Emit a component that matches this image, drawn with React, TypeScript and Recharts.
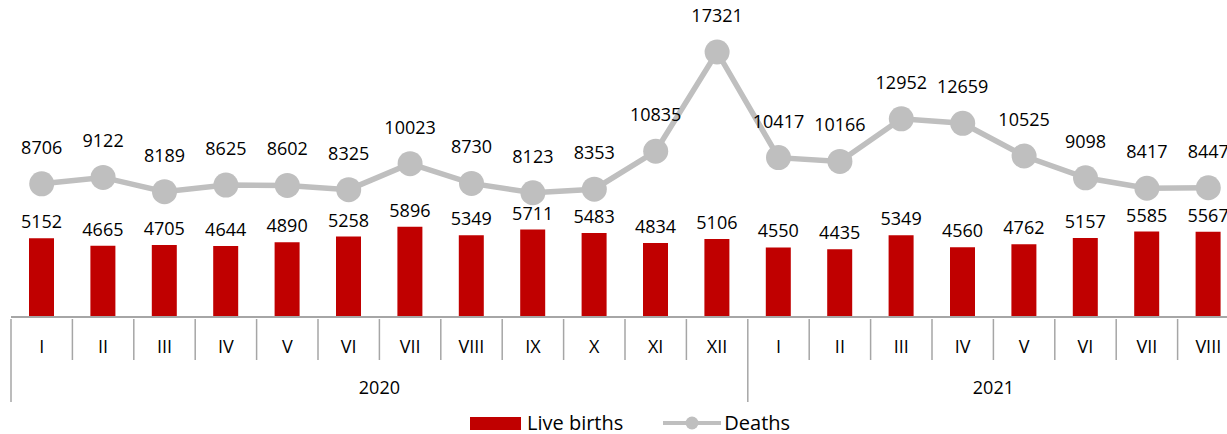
import React from 'react';
import { ComposedChart, Bar, Line, XAxis, YAxis, LabelList } from 'recharts';

const months = ['I', 'II', 'III', 'IV', 'V', 'VI', 'VII', 'VIII', 'IX', 'X', 'XI', 'XII', 'I', 'II', 'III', 'IV', 'V', 'VI', 'VII', 'VIII'];
const years = ['2020', '2021'];
const yearLengths = [12, 8];
const liveBirths = [5152, 4665, 4705, 4644, 4890, 5258, 5896, 5349, 5711, 5483, 4834, 5106, 4550, 4435, 5349, 4560, 4762, 5157, 5585, 5567];
const deaths = [8706, 9122, 8189, 8625, 8602, 8325, 10023, 8730, 8123, 8353, 10835, 17321, 10417, 10166, 12952, 12659, 10525, 9098, 8417, 8447];

const data = months.map((m, i) => ({ month: m, births: liveBirths[i], deaths: deaths[i] }));

const CHART_W = 1250;
const CHART_H = 434;
const MARGIN = { top: 11, right: 11, bottom: 27, left: 11 };
const BAND = (CHART_W - MARGIN.left - MARGIN.right) / months.length;

const FONT = '"Open Sans", sans-serif';
const AXIS_COLOR = '#a6a6a6';
const RED = '#c00000';
const GREY = '#bfbfbf';
const textStyle = { fontFamily: FONT, fontSize: 18 };

// first index of each year group
const yearStarts = yearLengths.map((_, i) => yearLengths.slice(0, i).reduce((a, b) => a + b, 0));

const MonthTick = (props: any) => {
  const { x, y, index, payload } = props;
  const left = x - BAND / 2;
  const yi = yearStarts.indexOf(index);
  return (
    <g>
      <line x1={left} x2={left} y1={y} y2={yi >= 0 ? y + 83 : y + 41} stroke={AXIS_COLOR} strokeWidth={1.5} />
      <text x={x} y={y + 34} textAnchor="middle" fill="#000" style={textStyle}>
        {payload.value}
      </text>
      {yi >= 0 && (
        <text x={left + (yearLengths[yi] * BAND) / 2} y={y + 75} textAnchor="middle" fill="#000" style={textStyle}>
          {years[yi]}
        </text>
      )}
    </g>
  );
};

const App: React.FC = () => {
  return (
    <div style={{ position: 'absolute', left: 0, top: 0, width: 1227, height: 434, overflow: 'hidden', background: '#fff' }}>
      <ComposedChart width={CHART_W} height={CHART_H} data={data} margin={MARGIN}>
        <XAxis
          dataKey="month"
          height={90}
          interval={0}
          tickSize={0}
          tickLine={false}
          axisLine={{ stroke: AXIS_COLOR, strokeWidth: 2 }}
          tick={<MonthTick />}
        />
        <YAxis hide domain={[0, 20000]} />
        <Bar dataKey="births" fill={RED} barSize={25} isAnimationActive={false}>
          <LabelList dataKey="births" position="top" offset={10} fill="#000" style={textStyle} />
        </Bar>
        <Line
          dataKey="deaths"
          stroke={GREY}
          strokeWidth={5.5}
          dot={{ r: 12.5, fill: GREY, stroke: 'none' }}
          activeDot={false}
          isAnimationActive={false}
        >
          <LabelList dataKey="deaths" position="top" offset={30} fill="#000" style={textStyle} />
        </Line>
      </ComposedChart>

      <div style={{ position: 'absolute', left: 470, top: 413, display: 'flex', alignItems: 'center', fontFamily: FONT, fontSize: 20, color: '#000', lineHeight: '20px' }}>
        <span style={{ display: 'inline-block', width: 51, height: 13, background: RED, marginRight: 6 }} />
        <span>Live births</span>
        <svg width={58} height={14} style={{ marginLeft: 40, marginRight: 3 }}>
          <line x1={0} x2={58} y1={7} y2={7} stroke={GREY} strokeWidth={4} />
          <circle cx={29} cy={7} r={6.5} fill={GREY} />
        </svg>
        <span>Deaths</span>
      </div>
    </div>
  );
};

export default App;
